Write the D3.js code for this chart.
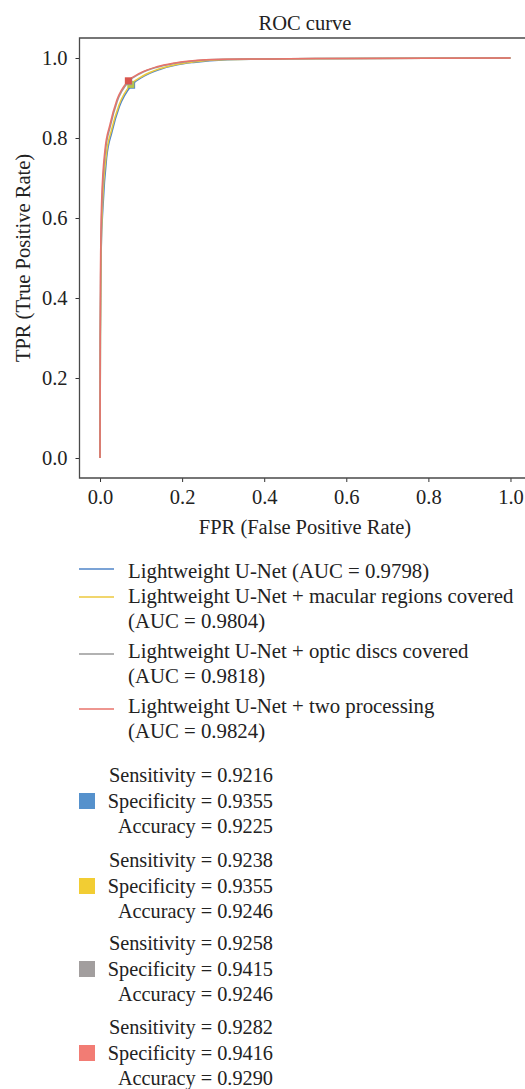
<!DOCTYPE html>
<html>
<head>
<meta charset="utf-8">
<script src="https://d3js.org/d3.v7.min.js"></script>
<style>
  body { margin: 0; background: #fff; }
  svg { display: block; }
</style>
</head>
<body>
<div id="chart"></div>
<script>
// model names and colours
const models = [
  'Lightweight U-Net',
  'Lightweight U-Net + macular regions covered',
  'Lightweight U-Net + optic discs covered',
  'Lightweight U-Net + two processing'
];
const aucs = [0.9798, 0.9804, 0.9818, 0.9824];
const lineColors = ['#4f84c8', '#ecc93c', '#999999', '#e8736b'];
const boxColors = ['#5591cc', '#f2cd33', '#a29e9e', '#f27c74'];

// ROC curve points
const fprBlue   = [0, 0.001, 0.002, 0.003, 0.007, 0.016, 0.029, 0.047, 0.077, 0.106, 0.147, 0.188, 0.228, 0.31, 0.39, 0.47, 0.6, 0.8, 1.0];
const tprBlue   = [0, 0.3, 0.45, 0.525, 0.625, 0.75, 0.815, 0.878, 0.932, 0.954, 0.972, 0.983, 0.989, 0.9955, 0.997, 0.998, 0.999, 0.9995, 1.0];
const fprYellow = [0, 0.001, 0.002, 0.003, 0.006, 0.015, 0.028, 0.046, 0.075, 0.104, 0.145, 0.186, 0.226, 0.31, 0.39, 0.47, 0.6, 0.8, 1.0];
const tprYellow = [0, 0.3, 0.45, 0.53, 0.63, 0.755, 0.82, 0.882, 0.934, 0.955, 0.973, 0.984, 0.990, 0.996, 0.997, 0.998, 0.999, 0.9995, 1.0];
const fprGray   = [0, 0.0005, 0.0015, 0.0025, 0.005, 0.013, 0.025, 0.042, 0.070, 0.098, 0.139, 0.179, 0.220, 0.30, 0.38, 0.46, 0.6, 0.8, 1.0];
const tprGray   = [0, 0.3, 0.45, 0.54, 0.64, 0.765, 0.829, 0.892, 0.941, 0.961, 0.977, 0.986, 0.992, 0.997, 0.9975, 0.998, 0.999, 0.9995, 1.0];
const fprRed    = [0, 0.0005, 0.001, 0.002, 0.004, 0.012, 0.024, 0.041, 0.069, 0.097, 0.138, 0.178, 0.219, 0.30, 0.38, 0.46, 0.6, 0.8, 1.0];
const tprRed    = [0, 0.3, 0.45, 0.545, 0.645, 0.77, 0.8325, 0.895, 0.943, 0.962, 0.978, 0.987, 0.9925, 0.997, 0.9975, 0.998, 0.999, 0.9995, 1.0];

// operating points (square markers)
const markFpr = [0.077, 0.075, 0.070, 0.069];
const markTpr = [0.932, 0.934, 0.941, 0.943];

// metrics shown under the legend
const sensitivity = ['0.9216', '0.9238', '0.9258', '0.9282'];
const specificity = ['0.9355', '0.9355', '0.9415', '0.9416'];
const accuracy    = ['0.9225', '0.9246', '0.9246', '0.9290'];

const xTicks = [0, 0.2, 0.4, 0.6, 0.8, 1.0];
const yTicks = [0, 0.2, 0.4, 0.6, 0.8, 1.0];

const width = 525;
const height = 1089;
const fontSize = 20.5;
const serif = '"Liberation Serif", "Times New Roman", serif';

const svg = d3.select('#chart').append('svg')
  .attr('width', width).attr('height', height);

function label(sel, size = fontSize) {
  return sel.style('font-family', serif).style('font-size', size + 'px').attr('fill', '#222');
}

const xScale = d3.scaleLinear().domain([-0.05, 1.05]).range([79.5, 531]);
const yScale = d3.scaleLinear().domain([-0.05, 1.05]).range([478, 38]);

// curves
const series = [
  { fpr: fprBlue, tpr: tprBlue },
  { fpr: fprYellow, tpr: tprYellow },
  { fpr: fprGray, tpr: tprGray },
  { fpr: fprRed, tpr: tprRed }
];
const line = d3.line()
  .x(d => xScale(d[0]))
  .y(d => yScale(d[1]))
  .curve(d3.curveMonotoneX);

const curves = svg.append('g').attr('class', 'curves');
series.forEach((s, i) => {
  const pts = s.fpr.map((f, j) => [f, s.tpr[j]]);
  curves.append('path')
    .attr('d', line(pts))
    .attr('fill', 'none')
    .attr('stroke', lineColors[i])
    .attr('stroke-width', 1.5);
});

const marks = svg.append('g').attr('class', 'marks');
markFpr.forEach((f, i) => {
  marks.append('rect')
    .attr('x', xScale(f) - 3.5)
    .attr('y', yScale(markTpr[i]) - 3.5)
    .attr('width', 7).attr('height', 7)
    .attr('fill', i === 3 ? '#d9564e' : (i === 1 ? '#b8c44a' : lineColors[i]));
});

// axes
const xAxis = svg.append('g')
  .attr('transform', `translate(0, ${yScale(-0.05)})`)
  .call(d3.axisBottom(xScale).tickValues(xTicks).tickFormat(d3.format('.1f')).tickSize(4).tickPadding(7));
const yAxis = svg.append('g')
  .attr('transform', `translate(${xScale(-0.05)}, 0)`)
  .call(d3.axisLeft(yScale).tickValues(yTicks).tickFormat(d3.format('.1f')).tickSize(4).tickPadding(8));
[xAxis, yAxis].forEach(a => {
  a.attr('font-family', null).attr('font-size', null);
  a.select('.domain').remove();
  a.selectAll('.tick line').attr('stroke', '#333').attr('stroke-width', 1);
  label(a.selectAll('.tick text'));
});

// spines (top, left, bottom; right falls outside the picture)
const spines = svg.append('g').attr('stroke', '#4a4a4a').attr('stroke-width', 1.3).attr('fill', 'none');
spines.append('path')
  .attr('d', `M${xScale(1.05) + 2},${yScale(1.05)}H${xScale(-0.05)}V${yScale(-0.05)}H${xScale(1.05) + 2}`);

// titles
label(svg.append('text'))
  .attr('x', 305).attr('y', 30)
  .attr('text-anchor', 'middle')
  .text('ROC curve');
label(svg.append('text'))
  .attr('x', 305).attr('y', 534)
  .attr('text-anchor', 'middle')
  .text('FPR (False Positive Rate)');
label(svg.append('text'))
  .attr('transform', `translate(30, ${(yScale(-0.05) + yScale(1.05)) / 2}) rotate(-90)`)
  .attr('text-anchor', 'middle')
  .text('TPR (True Positive Rate)');

// legend of curves
const legendLineY = [569, 597, 654, 709];
const legendBase = [[578], [603, 628], [658, 683], [713, 738]];
const legend = svg.append('g').attr('class', 'legend');
models.forEach((m, i) => {
  legend.append('line')
    .attr('x1', 79).attr('x2', 114)
    .attr('y1', legendLineY[i]).attr('y2', legendLineY[i])
    .attr('stroke', lineColors[i]).attr('stroke-width', 1.5);
  const auc = `(AUC = ${aucs[i].toFixed(4)})`;
  const lines = i === 0 ? [`${m} ${auc}`] : [m, auc];
  lines.forEach((t, j) => {
    label(legend.append('text'), 20.8)
      .attr('x', 128).attr('y', legendBase[i][j])
      .text(t);
  });
});

// metrics blocks
const blockTop = [782, 867, 950, 1034];
const stats = svg.append('g').attr('class', 'stats');
boxColors.forEach((c, i) => {
  const y0 = blockTop[i];
  stats.append('rect')
    .attr('x', 79).attr('y', y0 + 25.5 - 6.5 - 8)
    .attr('width', 16).attr('height', 16)
    .attr('fill', c);
  const rows = [
    `Sensitivity = ${sensitivity[i]}`,
    `Specificity = ${specificity[i]}`,
    `Accuracy = ${accuracy[i]}`
  ];
  rows.forEach((t, j) => {
    label(stats.append('text'), 20.3)
      .attr('x', 273).attr('y', y0 + j * 25.5)
      .attr('text-anchor', 'end')
      .text(t);
  });
});
</script>
</body>
</html>
